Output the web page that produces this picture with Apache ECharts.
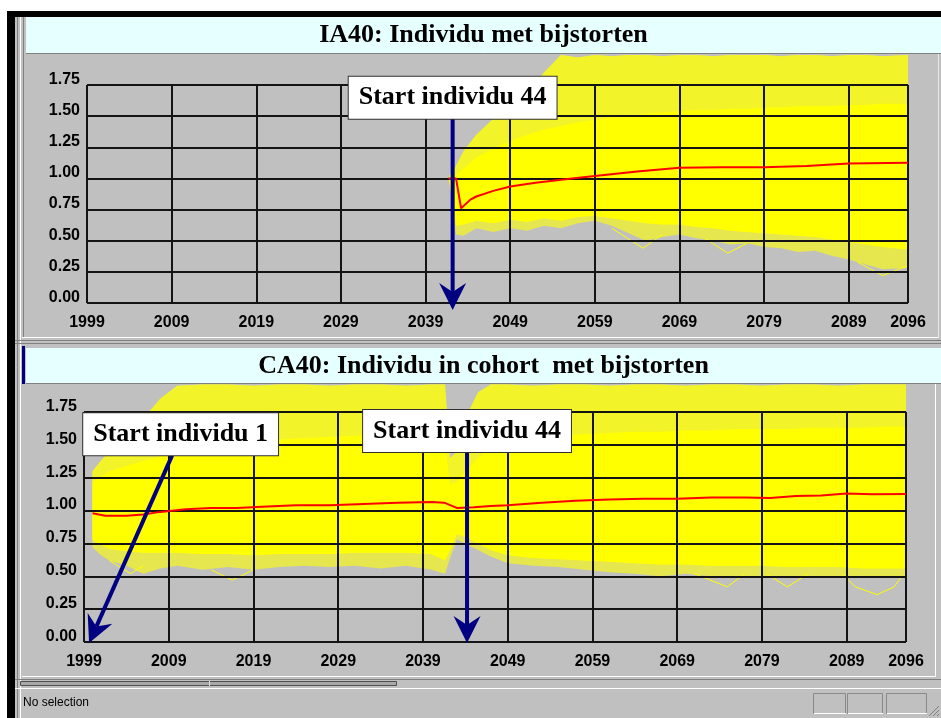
<!DOCTYPE html>
<html>
<head>
<meta charset="utf-8">
<title>IA40 / CA40 bijstorten</title>
<script src="https://cdn.jsdelivr.net/npm/echarts@6/dist/echarts.min.js"></script>
<style>
  html, body { margin: 0; padding: 0; background: #fff; }
  #main { width: 941px; height: 718px; }
</style>
</head>
<body>
<div id="main"></div>
<script>
// ---- axes / labels ----
var xTickYears = [1999, 2009, 2019, 2029, 2039, 2049, 2059, 2069, 2079, 2089, 2096];
var yTickValues = [0, 0.25, 0.5, 0.75, 1, 1.25, 1.5, 1.75];
var chartTitles = ['IA40: Individu met bijstorten', 'CA40: Individu in cohort  met bijstorten'];

// ---- IA40 (top) : envelope of the simulated paths ----
var iaYears     = [2041.8, 2042.6, 2043.5, 2045, 2047, 2049, 2051, 2053, 2055, 2057, 2059, 2061, 2063, 2065, 2067, 2069, 2071, 2073, 2075, 2077, 2079, 2081, 2083, 2085, 2087, 2089, 2091, 2093, 2096];
var iaLowOuter  = [0.98, 0.55, 0.54, 0.60, 0.57, 0.60, 0.58, 0.62, 0.60, 0.64, 0.66, 0.62, 0.56, 0.50, 0.53, 0.55, 0.52, 0.50, 0.47, 0.48, 0.45, 0.44, 0.41, 0.42, 0.38, 0.35, 0.31, 0.27, 0.28];
var iaLow       = [0.98, 0.62, 0.63, 0.66, 0.64, 0.67, 0.65, 0.68, 0.66, 0.69, 0.70, 0.68, 0.66, 0.64, 0.63, 0.63, 0.61, 0.60, 0.58, 0.57, 0.56, 0.55, 0.54, 0.53, 0.51, 0.49, 0.47, 0.45, 0.43];
var iaSolidTop  = [1.00, 1.03, 1.08, 1.17, 1.24, 1.30, 1.35, 1.39, 1.42, 1.45, 1.47, 1.49, 1.50, 1.52, 1.53, 1.54, 1.55, 1.55, 1.56, 1.56, 1.57, 1.57, 1.58, 1.58, 1.58, 1.59, 1.59, 1.60, 1.60];
var iaOuterTop  = [1.02, 1.10, 1.22, 1.35, 1.48, 1.55, 1.68, 1.85, 1.99, 1.97, 1.99, 1.98, 1.99, 1.99, 1.98, 1.99, 1.99, 1.98, 1.99, 1.99, 1.99, 1.98, 1.99, 1.99, 1.98, 1.99, 1.99, 1.98, 1.99];
var iaMeanYears = [2041.7, 2042.6, 2043.2, 2044.3, 2045, 2047, 2049, 2052, 2056.3, 2059, 2064, 2069, 2074, 2079, 2084, 2089, 2096];
var iaMean      = [1.00, 1.00, 0.76, 0.83, 0.855, 0.90, 0.935, 0.965, 1.00, 1.02, 1.055, 1.085, 1.09, 1.09, 1.10, 1.12, 1.125];
var iaStrays = [
  [[2061, 0.60], [2064.7, 0.44], [2067, 0.55]],
  [[2072, 0.52], [2074.7, 0.40], [2077, 0.48]],
  [[2090, 0.33], [2093, 0.22], [2096, 0.30]]
];

// ---- CA40 (bottom) ----
var caYears     = [2000, 2001, 2002, 2004, 2006, 2008, 2010, 2013, 2016, 2019, 2022, 2025, 2028, 2031, 2034, 2037, 2040, 2041.6, 2042.2, 2043, 2044, 2045.5, 2047, 2049, 2052, 2055, 2058, 2061, 2064, 2067, 2070, 2073, 2076, 2079, 2082, 2085, 2088, 2091, 2094, 2096];
var caLowOuter  = [0.72, 0.66, 0.62, 0.58, 0.52, 0.56, 0.58, 0.55, 0.57, 0.55, 0.57, 0.58, 0.57, 0.58, 0.56, 0.58, 0.55, 0.52, 0.64, 0.78, 0.75, 0.70, 0.65, 0.60, 0.58, 0.57, 0.55, 0.53, 0.52, 0.50, 0.52, 0.50, 0.50, 0.50, 0.49, 0.50, 0.50, 0.49, 0.50, 0.50];
var caLow       = [0.78, 0.74, 0.71, 0.69, 0.68, 0.68, 0.68, 0.67, 0.67, 0.66, 0.67, 0.67, 0.67, 0.68, 0.68, 0.68, 0.67, 0.62, 0.70, 0.82, 0.80, 0.75, 0.70, 0.66, 0.64, 0.63, 0.62, 0.61, 0.60, 0.59, 0.59, 0.58, 0.58, 0.58, 0.57, 0.57, 0.57, 0.56, 0.56, 0.56];
var caSolidTop  = [1.22, 1.26, 1.30, 1.34, 1.38, 1.41, 1.44, 1.47, 1.50, 1.52, 1.54, 1.55, 1.56, 1.57, 1.58, 1.58, 1.58, 1.50, 1.20, 1.22, 1.30, 1.40, 1.48, 1.52, 1.55, 1.57, 1.58, 1.59, 1.60, 1.60, 1.61, 1.61, 1.62, 1.62, 1.62, 1.63, 1.63, 1.63, 1.64, 1.64];
var caOuterTop  = [1.30, 1.38, 1.45, 1.55, 1.70, 1.85, 1.95, 1.96, 1.96, 1.95, 1.96, 1.96, 1.95, 1.96, 1.96, 1.95, 1.96, 1.96, 1.40, 1.45, 1.70, 1.90, 1.96, 1.96, 1.95, 1.96, 1.96, 1.95, 1.96, 1.96, 1.95, 1.96, 1.96, 1.95, 1.96, 1.96, 1.95, 1.96, 1.96, 1.96];
var caMeanYears = [2000, 2001.5, 2004, 2006, 2008, 2011, 2014, 2017, 2020, 2024, 2028, 2032, 2036, 2040, 2041.5, 2043, 2045, 2047, 2049, 2053, 2057, 2061, 2065, 2069, 2073, 2077, 2080, 2083, 2086, 2089, 2092, 2096];
var caMean      = [0.98, 0.96, 0.96, 0.97, 0.99, 1.01, 1.02, 1.02, 1.03, 1.04, 1.04, 1.05, 1.06, 1.065, 1.06, 1.02, 1.025, 1.035, 1.04, 1.06, 1.075, 1.085, 1.09, 1.09, 1.10, 1.10, 1.095, 1.11, 1.115, 1.13, 1.125, 1.127];
var caStrays = [
  [[2002, 0.62], [2004.5, 0.52], [2006, 0.58]],
  [[2014, 0.55], [2016.5, 0.47], [2019, 0.55]],
  [[2071, 0.52], [2074.9, 0.42], [2077, 0.52]],
  [[2079.5, 0.52], [2082, 0.42], [2084.5, 0.52]],
  [[2088.5, 0.52], [2090, 0.42], [2092.6, 0.36], [2094.6, 0.42], [2095.5, 0.50]]
];

// ---- annotations (data coordinates) ----
var noteTexts = ['Start individu 44', 'Start individu 1', 'Start individu 44'];
var noteGrids = [0, 1, 1];
var noteFrom  = [[2042.2, 1.48], [2009.4, 1.42], [2044.2, 1.445]];
var noteTo    = [[2042.2, -0.056], [1999.6, -0.008], [2044.2, -0.008]];

var BASE = xTickYears[0];
var YELLOW = '#FFFF00', YELLOW_HI = '#F3F32A', YELLOW_LO = '#E6E64E', PANEL = '#C0C0C0';
var NAVY = '#000080';

var chart = echarts.init(document.getElementById('main'));

// filled band between two envelopes, drawn as one polygon through the axes
function band(gi, years, lo, hi, color, z) {
  return {
    type: 'custom', xAxisIndex: gi, yAxisIndex: gi, z: z, silent: true, clip: false,
    encode: { x: 0, y: [1, 2] },
    data: years.map(function (y, k) { return [y - BASE, lo[k], hi[k]]; }),
    renderItem: function (params, api) {
      if (params.dataIndex !== 0) return null;
      var upper = [], lower = [];
      years.forEach(function (y, k) {
        upper.push(api.coord([y - BASE, hi[k]]));
        lower.unshift(api.coord([y - BASE, lo[k]]));
      });
      return { type: 'polygon', shape: { points: upper.concat(lower) }, style: { fill: color } };
    }
  };
}

function chartSeries(gi, years, lowOuter, low, solidTop, outerTop, meanYears, mean, strays) {
  var list = [
    band(gi, years, lowOuter, outerTop, YELLOW_LO, 2),
    band(gi, years, low, outerTop, YELLOW_HI, 3),
    band(gi, years, low, solidTop, YELLOW, 4)
  ];
  strays.forEach(function (s) {
    list.push({
      type: 'line', xAxisIndex: gi, yAxisIndex: gi, symbol: 'none', silent: true, z: 5,
      data: s.map(function (p) { return [p[0] - BASE, p[1]]; }),
      lineStyle: { color: YELLOW, width: 1 }
    });
  });
  list.push({
    type: 'line', xAxisIndex: gi, yAxisIndex: gi, symbol: 'none', silent: true, z: 8,
    data: meanYears.map(function (y, k) { return [y - BASE, mean[k]]; }),
    lineStyle: { color: '#FF0000', width: 2 }
  });
  return list;
}

var labelFont = { color: '#000', fontSize: 16, fontWeight: 'bold', fontFamily: 'Liberation Sans' };

var option = {
  animation: false,
  backgroundColor: PANEL,
  grid: [
    { left: 87, top: 85, width: 821, height: 218 },
    { left: 84, top: 412, width: 822, height: 230 }
  ],
  xAxis: [0, 1].map(function (i) {
    return {
      type: 'value', gridIndex: i, z: 7,
      min: 0, max: xTickYears[xTickYears.length - 1] - BASE,
      interval: xTickYears[1] - xTickYears[0],
      axisLine: { show: false }, axisTick: { show: false },
      splitLine: { show: true, lineStyle: { color: '#141414', width: 2 } },
      axisLabel: Object.assign({
        margin: 12, showMinLabel: true, showMaxLabel: true,
        formatter: function (v) { return String(Math.round(v + BASE)); }
      }, labelFont)
    };
  }),
  yAxis: [0, 1].map(function (i) {
    return {
      type: 'value', gridIndex: i, z: 7,
      min: yTickValues[0], max: yTickValues[yTickValues.length - 1],
      interval: yTickValues[1] - yTickValues[0],
      axisLine: { show: false }, axisTick: { show: false },
      splitLine: { show: true, lineStyle: { color: '#141414', width: 2 } },
      axisLabel: Object.assign({
        margin: 7, verticalAlign: 'bottom', lineHeight: 11,
        formatter: function (v) { return v.toFixed(2); }
      }, labelFont)
    };
  }),
  series: chartSeries(0, iaYears, iaLowOuter, iaLow, iaSolidTop, iaOuterTop, iaMeanYears, iaMean, iaStrays)
    .concat(chartSeries(1, caYears, caLowOuter, caLow, caSolidTop, caOuterTop, caMeanYears, caMean, caStrays))
};

chart.setOption(option);

// ---- window chrome + annotations ----
var g = [];
function rect(x, y, w, h, fill, z) {
  g.push({ type: 'rect', z: z || 1, silent: true, shape: { x: x, y: y, width: w, height: h }, style: { fill: fill } });
}
function line(x1, y1, x2, y2, color, w, z) {
  g.push({ type: 'line', z: z || 1, silent: true, shape: { x1: x1, y1: y1, x2: x2, y2: y2 }, style: { stroke: color, lineWidth: w || 1 } });
}

rect(0, 0, 941, 11, '#FFFFFF');
rect(0, 0, 7, 718, '#FFFFFF');
rect(7, 11, 934, 6, '#000000');
rect(7, 11, 8, 707, '#000000');
line(17.5, 17, 17.5, 718, '#808080');
line(20.5, 17, 20.5, 718, '#FFFFFF');
line(23.5, 17, 23.5, 338, '#808080');

// title bars
rect(26, 17, 915, 36, '#E6FFFF');
line(26, 53.5, 941, 53.5, '#808080');
rect(26, 348, 915, 35, '#E6FFFF');
line(26, 383.5, 941, 383.5, '#808080');
rect(22, 346, 3, 38, NAVY);
[35, 366].forEach(function (y, i) {
  g.push({
    type: 'text', z: 2, silent: true, x: 483.5, y: y,
    style: { text: chartTitles[i], font: 'bold 26px "Liberation Serif"', fill: '#000', align: 'center', verticalAlign: 'middle', textAlign: 'center', textVerticalAlign: 'middle' }
  });
});

// panel separators
line(938.5, 54, 938.5, 338, '#E8E8E8');
line(22, 337.5, 938, 337.5, '#FFFFFF');
line(15, 340.5, 941, 340.5, '#808080');
line(15, 343.5, 941, 343.5, '#808080');
line(935.5, 384, 935.5, 676, '#FFFFFF');
line(22, 676.5, 936, 676.5, '#FFFFFF');
line(15, 679.5, 941, 679.5, '#808080');
g.push({ type: 'rect', z: 1, silent: true, shape: { x: 20.5, y: 681.5, width: 376, height: 4 }, style: { fill: '#A8A8A8', stroke: '#505050', lineWidth: 1 } });
line(209.5, 681, 209.5, 686, '#E0E0E0');

// status bar
line(15, 688.5, 941, 688.5, '#FFFFFF');
g.push({
  type: 'text', z: 2, silent: true, x: 23, y: 703,
  style: { text: 'No selection', font: '12px "Liberation Sans"', fill: '#000', align: 'left', verticalAlign: 'middle', textAlign: 'left', textVerticalAlign: 'middle' }
});
[[813, 32], [847, 35], [886, 40]].forEach(function (b) {
  g.push({ type: 'rect', z: 1, silent: true, shape: { x: b[0] + 0.5, y: 693.5, width: b[1], height: 20 }, style: { fill: 'none', stroke: '#8A8A8A', lineWidth: 1 } });
  line(b[0] + 1, 713.5, b[0] + b[1] + 1, 713.5, '#FFFFFF');
});
[0, 4, 8].forEach(function (d) {
  line(929 + d, 716, 939, 706 + d, '#808080');
});

// annotation boxes + arrows
var boxShift = [0, 8.5, 0];
noteTexts.forEach(function (t, i) {
  var gi = noteGrids[i];
  var p0 = chart.convertToPixel({ gridIndex: gi }, [noteFrom[i][0] - BASE, noteFrom[i][1]]);
  var p1 = chart.convertToPixel({ gridIndex: gi }, [noteTo[i][0] - BASE, noteTo[i][1]]);
  var dx = p1[0] - p0[0], dy = p1[1] - p0[1];
  var len = Math.sqrt(dx * dx + dy * dy);
  var ux = dx / len, uy = dy / len, px = -uy, py = ux;
  var headLen = 27, half = 13.5, notch = 18;
  line(p0[0], p0[1], p1[0] - ux * notch, p1[1] - uy * notch, NAVY, 4, 20);
  g.push({
    type: 'polygon', z: 20, silent: true,
    shape: { points: [
      [p1[0], p1[1]],
      [p1[0] - ux * headLen + px * half, p1[1] - uy * headLen + py * half],
      [p1[0] - ux * notch, p1[1] - uy * notch],
      [p1[0] - ux * headLen - px * half, p1[1] - uy * headLen - py * half]
    ] },
    style: { fill: NAVY }
  });
  g.push({
    type: 'text', z: 21, silent: true, x: p0[0] + boxShift[i], y: p0[1],
    style: {
      text: t, font: 'bold 26px "Liberation Serif"', fill: '#000',
      align: 'center', verticalAlign: 'bottom', textAlign: 'center', textVerticalAlign: 'bottom',
      lineHeight: 30, padding: [6, 10, 6, 10],
      backgroundColor: '#FFFFFF', borderColor: '#303030', borderWidth: 1
    }
  });
});

chart.setOption({ graphic: { elements: g } });
</script>
</body>
</html>
